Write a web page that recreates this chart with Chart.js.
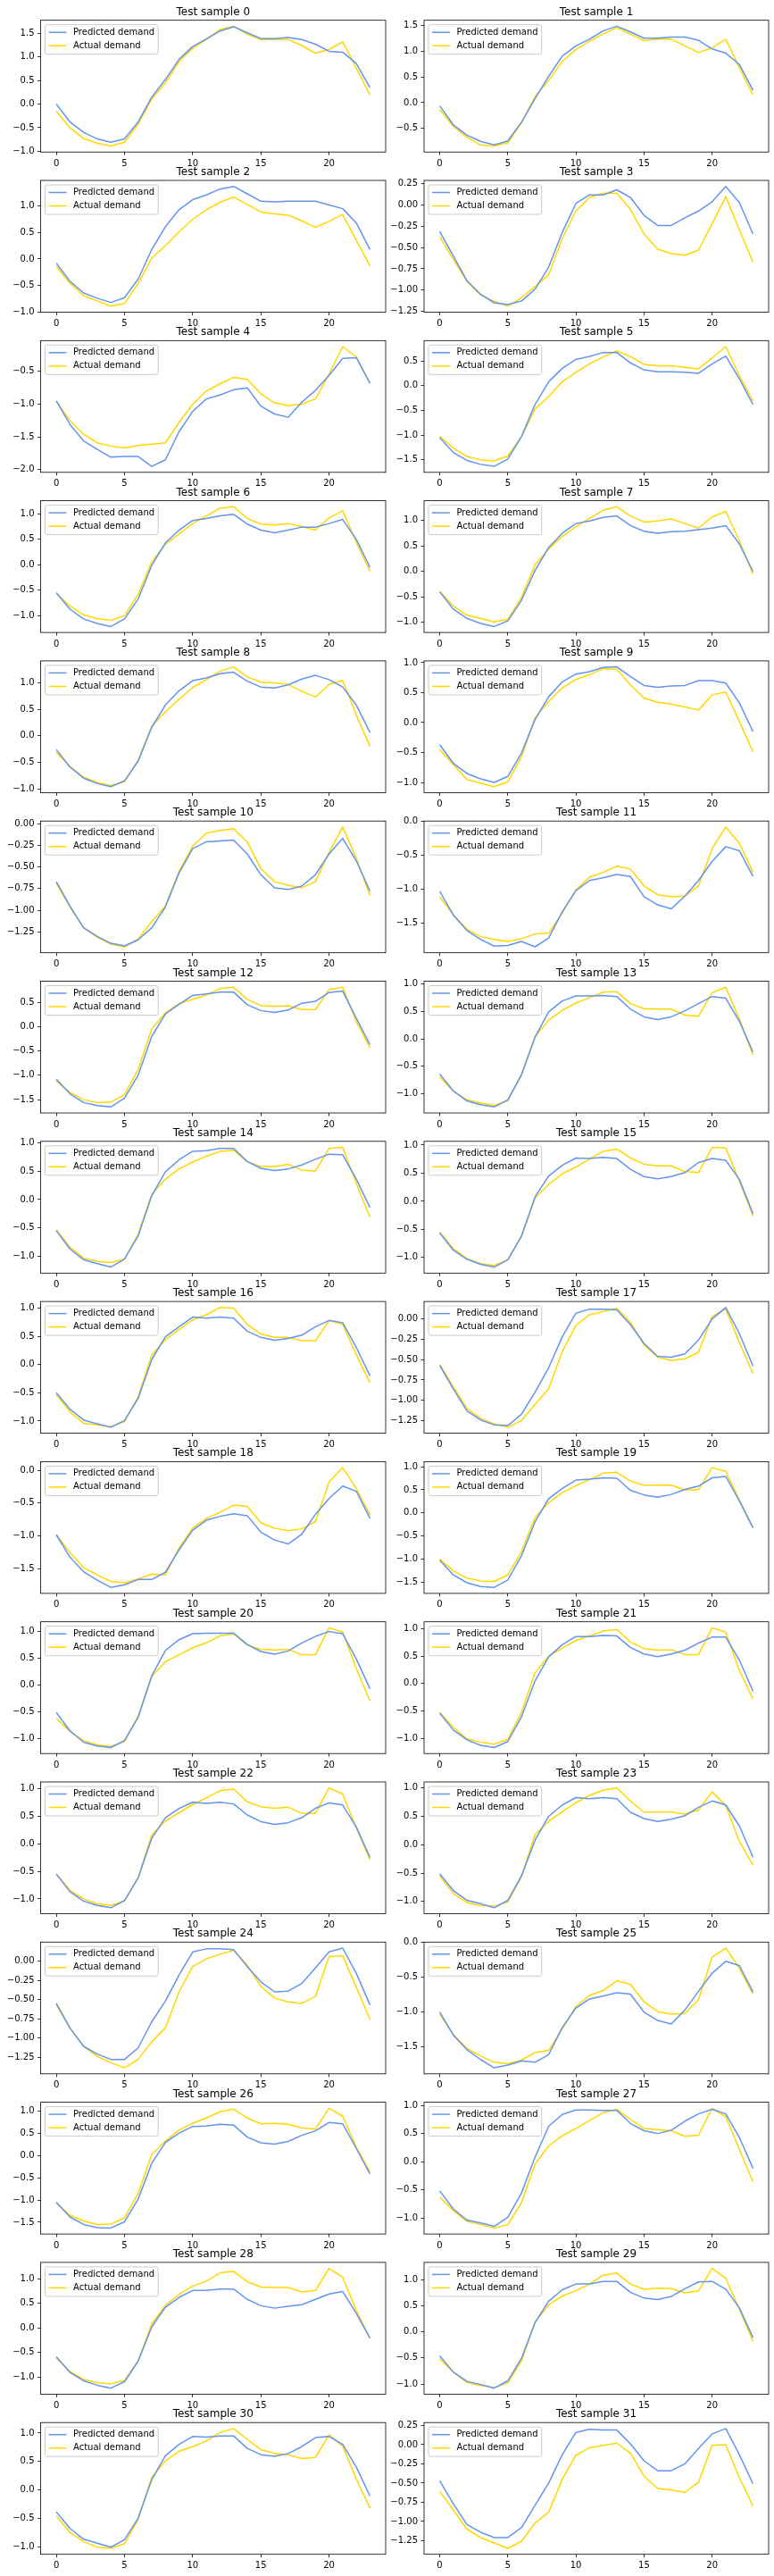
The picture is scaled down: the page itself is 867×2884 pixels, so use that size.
<!DOCTYPE html>
<html>
<head>
<meta charset="utf-8">
<script src="https://cdn.jsdelivr.net/npm/chart.js@4.4.0/dist/chart.umd.min.js"></script>
<style>
  body { margin: 0; background: #fff; }
  #wrap { position: relative; width: 867px; height: 2884px; overflow: hidden; }
  #wrap canvas { position: absolute; }
</style>
</head>
<body>
<div id="wrap"></div>
<script>
// ---- data ----
const hours = [0, 1, 2, 3, 4, 5, 6, 7, 8, 9, 10, 11, 12, 13, 14, 15, 16, 17, 18, 19, 20, 21, 22, 23];
const xTicks = [0, 5, 10, 15, 20];
const seriesNames = ['Predicted demand', 'Actual demand'];

// one row per test sample
const predicted = [
  [0.00, -0.38, -0.60, -0.74, -0.81, -0.74, -0.38, 0.15, 0.52, 0.95, 1.22, 1.38, 1.55, 1.64, 1.51, 1.39, 1.39, 1.41, 1.37, 1.27, 1.12, 1.10, 0.86, 0.35],
  [-0.06, -0.43, -0.63, -0.75, -0.82, -0.74, -0.38, 0.08, 0.51, 0.90, 1.10, 1.23, 1.39, 1.48, 1.37, 1.25, 1.25, 1.27, 1.27, 1.21, 1.04, 0.96, 0.74, 0.24],
  [-0.08, -0.42, -0.64, -0.74, -0.82, -0.73, -0.38, 0.18, 0.61, 0.93, 1.12, 1.21, 1.32, 1.37, 1.23, 1.09, 1.08, 1.09, 1.09, 1.09, 1.02, 0.95, 0.68, 0.18],
  [-0.31, -0.60, -0.89, -1.05, -1.15, -1.17, -1.13, -0.99, -0.73, -0.32, 0.02, 0.12, 0.12, 0.18, 0.09, -0.12, -0.24, -0.24, -0.15, -0.07, 0.04, 0.22, 0.03, -0.34],
  [-0.95, -1.31, -1.56, -1.69, -1.81, -1.80, -1.80, -1.95, -1.85, -1.42, -1.11, -0.92, -0.86, -0.78, -0.75, -1.03, -1.15, -1.20, -0.97, -0.79, -0.56, -0.30, -0.29, -0.68],
  [-1.05, -1.35, -1.51, -1.59, -1.63, -1.48, -1.03, -0.38, 0.08, 0.35, 0.53, 0.59, 0.67, 0.67, 0.46, 0.32, 0.28, 0.28, 0.27, 0.25, 0.44, 0.60, 0.14, -0.38],
  [-0.55, -0.87, -1.06, -1.15, -1.21, -1.06, -0.67, -0.01, 0.43, 0.68, 0.87, 0.91, 0.96, 0.99, 0.80, 0.68, 0.63, 0.68, 0.74, 0.74, 0.81, 0.89, 0.50, -0.05],
  [-0.40, -0.74, -0.92, -1.02, -1.08, -0.97, -0.57, 0.02, 0.47, 0.75, 0.94, 0.99, 1.06, 1.09, 0.90, 0.79, 0.75, 0.78, 0.79, 0.82, 0.85, 0.90, 0.54, 0.00],
  [-0.26, -0.59, -0.80, -0.90, -0.96, -0.85, -0.48, 0.16, 0.58, 0.85, 1.04, 1.09, 1.17, 1.20, 1.03, 0.92, 0.90, 0.96, 1.07, 1.14, 1.06, 0.92, 0.58, 0.06],
  [-0.37, -0.68, -0.85, -0.94, -1.00, -0.90, -0.51, 0.05, 0.43, 0.68, 0.81, 0.85, 0.92, 0.93, 0.77, 0.62, 0.59, 0.61, 0.62, 0.70, 0.70, 0.66, 0.33, -0.15],
  [-0.67, -0.95, -1.20, -1.30, -1.38, -1.41, -1.34, -1.20, -0.96, -0.57, -0.29, -0.21, -0.20, -0.19, -0.35, -0.59, -0.74, -0.76, -0.72, -0.59, -0.35, -0.17, -0.43, -0.78],
  [-1.03, -1.38, -1.61, -1.74, -1.84, -1.83, -1.77, -1.85, -1.72, -1.33, -1.02, -0.87, -0.83, -0.78, -0.81, -1.11, -1.23, -1.29, -1.10, -0.87, -0.59, -0.37, -0.43, -0.81],
  [-1.08, -1.38, -1.56, -1.62, -1.65, -1.47, -1.00, -0.20, 0.26, 0.46, 0.64, 0.67, 0.71, 0.71, 0.45, 0.33, 0.29, 0.34, 0.48, 0.52, 0.70, 0.73, 0.17, -0.37],
  [-0.64, -0.95, -1.13, -1.20, -1.24, -1.11, -0.66, 0.03, 0.49, 0.69, 0.78, 0.78, 0.79, 0.77, 0.54, 0.40, 0.35, 0.40, 0.51, 0.64, 0.77, 0.74, 0.32, -0.24],
  [-0.55, -0.87, -1.06, -1.13, -1.19, -1.05, -0.64, 0.07, 0.49, 0.70, 0.85, 0.86, 0.90, 0.90, 0.67, 0.55, 0.51, 0.54, 0.61, 0.71, 0.80, 0.79, 0.36, -0.14],
  [-0.56, -0.87, -1.03, -1.12, -1.17, -1.04, -0.62, 0.08, 0.45, 0.64, 0.77, 0.76, 0.78, 0.76, 0.57, 0.44, 0.40, 0.44, 0.51, 0.69, 0.76, 0.73, 0.39, -0.22],
  [-0.50, -0.79, -0.98, -1.05, -1.11, -0.99, -0.60, 0.09, 0.49, 0.67, 0.84, 0.82, 0.84, 0.82, 0.59, 0.48, 0.43, 0.46, 0.52, 0.67, 0.78, 0.74, 0.30, -0.20],
  [-0.57, -0.86, -1.13, -1.24, -1.30, -1.31, -1.17, -0.90, -0.60, -0.22, 0.07, 0.12, 0.12, 0.11, -0.07, -0.30, -0.46, -0.47, -0.43, -0.26, 0.00, 0.14, -0.18, -0.58],
  [-0.98, -1.32, -1.54, -1.67, -1.78, -1.74, -1.66, -1.66, -1.55, -1.21, -0.91, -0.76, -0.70, -0.66, -0.69, -0.94, -1.06, -1.12, -0.97, -0.67, -0.43, -0.24, -0.32, -0.73],
  [-1.02, -1.34, -1.51, -1.59, -1.61, -1.45, -0.93, -0.19, 0.31, 0.53, 0.71, 0.73, 0.76, 0.75, 0.49, 0.39, 0.34, 0.40, 0.51, 0.58, 0.76, 0.79, 0.26, -0.32],
  [-0.51, -0.85, -1.06, -1.13, -1.16, -1.03, -0.60, 0.17, 0.64, 0.84, 0.95, 0.96, 0.96, 0.96, 0.75, 0.62, 0.57, 0.63, 0.78, 0.90, 0.99, 0.95, 0.48, -0.07],
  [-0.54, -0.85, -1.03, -1.13, -1.17, -1.06, -0.61, 0.05, 0.49, 0.71, 0.86, 0.86, 0.88, 0.87, 0.66, 0.54, 0.49, 0.54, 0.61, 0.74, 0.85, 0.85, 0.43, -0.14],
  [-0.55, -0.87, -1.04, -1.12, -1.16, -1.03, -0.62, 0.10, 0.47, 0.64, 0.75, 0.73, 0.75, 0.72, 0.52, 0.40, 0.35, 0.38, 0.47, 0.64, 0.74, 0.70, 0.30, -0.25],
  [-0.51, -0.81, -0.98, -1.04, -1.11, -0.98, -0.55, 0.08, 0.50, 0.70, 0.83, 0.81, 0.83, 0.81, 0.57, 0.46, 0.41, 0.45, 0.51, 0.66, 0.77, 0.70, 0.33, -0.22],
  [-0.55, -0.87, -1.11, -1.21, -1.28, -1.28, -1.13, -0.79, -0.52, -0.18, 0.12, 0.16, 0.16, 0.15, -0.07, -0.27, -0.40, -0.39, -0.29, -0.09, 0.12, 0.17, -0.16, -0.57],
  [-1.00, -1.33, -1.54, -1.68, -1.80, -1.76, -1.70, -1.72, -1.61, -1.22, -0.94, -0.81, -0.77, -0.72, -0.74, -1.00, -1.12, -1.17, -0.97, -0.70, -0.44, -0.27, -0.33, -0.71],
  [-1.05, -1.38, -1.55, -1.62, -1.63, -1.49, -0.98, -0.17, 0.30, 0.51, 0.66, 0.67, 0.71, 0.69, 0.42, 0.29, 0.26, 0.32, 0.46, 0.56, 0.75, 0.72, 0.16, -0.41],
  [-0.52, -0.84, -1.04, -1.09, -1.15, -0.99, -0.56, 0.08, 0.63, 0.84, 0.92, 0.92, 0.91, 0.91, 0.68, 0.55, 0.50, 0.56, 0.72, 0.85, 0.93, 0.85, 0.43, -0.12],
  [-0.59, -0.91, -1.08, -1.17, -1.23, -1.10, -0.68, 0.02, 0.42, 0.62, 0.76, 0.76, 0.79, 0.79, 0.58, 0.45, 0.40, 0.44, 0.47, 0.58, 0.69, 0.74, 0.29, -0.21],
  [-0.46, -0.77, -0.95, -1.01, -1.08, -0.94, -0.51, 0.18, 0.59, 0.81, 0.92, 0.92, 0.97, 0.97, 0.76, 0.65, 0.62, 0.68, 0.83, 0.96, 0.97, 0.82, 0.46, -0.11],
  [-0.39, -0.68, -0.87, -0.94, -1.01, -0.88, -0.50, 0.18, 0.60, 0.80, 0.94, 0.93, 0.95, 0.95, 0.73, 0.62, 0.59, 0.64, 0.76, 0.92, 0.94, 0.80, 0.40, -0.11],
  [-0.47, -0.77, -1.04, -1.14, -1.21, -1.21, -1.08, -0.79, -0.50, -0.13, 0.16, 0.20, 0.19, 0.19, 0.01, -0.21, -0.34, -0.34, -0.25, -0.05, 0.14, 0.21, -0.13, -0.51]
];

const actual = [
  [-0.15, -0.50, -0.73, -0.83, -0.89, -0.81, -0.43, 0.11, 0.45, 0.90, 1.18, 1.37, 1.58, 1.65, 1.48, 1.37, 1.37, 1.37, 1.24, 1.08, 1.16, 1.32, 0.76, 0.19],
  [-0.13, -0.46, -0.67, -0.82, -0.84, -0.78, -0.39, 0.12, 0.43, 0.80, 1.03, 1.19, 1.33, 1.45, 1.33, 1.20, 1.23, 1.23, 1.10, 0.97, 1.06, 1.23, 0.68, 0.15],
  [-0.14, -0.46, -0.69, -0.79, -0.89, -0.84, -0.46, 0.02, 0.25, 0.51, 0.75, 0.93, 1.07, 1.17, 1.03, 0.89, 0.85, 0.83, 0.72, 0.60, 0.71, 0.84, 0.35, -0.13],
  [-0.37, -0.64, -0.90, -1.06, -1.13, -1.19, -1.09, -0.96, -0.82, -0.39, -0.07, 0.09, 0.14, 0.14, -0.05, -0.34, -0.52, -0.57, -0.59, -0.53, -0.22, 0.10, -0.29, -0.67],
  [-0.95, -1.25, -1.46, -1.59, -1.64, -1.67, -1.63, -1.61, -1.59, -1.28, -1.00, -0.80, -0.69, -0.59, -0.62, -0.84, -0.98, -1.02, -1.00, -0.92, -0.54, -0.12, -0.28, -0.68],
  [-1.02, -1.26, -1.43, -1.50, -1.52, -1.42, -1.03, -0.47, -0.22, 0.08, 0.27, 0.44, 0.58, 0.70, 0.59, 0.43, 0.40, 0.40, 0.37, 0.34, 0.56, 0.79, 0.20, -0.31],
  [-0.55, -0.81, -0.98, -1.06, -1.09, -1.00, -0.58, 0.06, 0.40, 0.61, 0.81, 0.96, 1.11, 1.14, 0.91, 0.80, 0.78, 0.81, 0.75, 0.68, 0.92, 1.06, 0.44, -0.13],
  [-0.39, -0.68, -0.86, -0.92, -0.99, -0.94, -0.51, 0.13, 0.44, 0.69, 0.88, 1.04, 1.20, 1.27, 1.09, 0.97, 0.99, 1.03, 0.94, 0.85, 1.07, 1.18, 0.60, -0.05],
  [-0.31, -0.58, -0.78, -0.88, -0.94, -0.87, -0.46, 0.18, 0.45, 0.69, 0.91, 1.06, 1.22, 1.30, 1.11, 1.01, 1.00, 0.97, 0.84, 0.73, 0.97, 1.04, 0.39, -0.20],
  [-0.45, -0.70, -0.95, -1.01, -1.07, -0.99, -0.57, 0.08, 0.35, 0.58, 0.72, 0.80, 0.90, 0.89, 0.63, 0.41, 0.34, 0.31, 0.26, 0.21, 0.46, 0.51, 0.02, -0.49],
  [-0.69, -0.96, -1.20, -1.31, -1.39, -1.42, -1.33, -1.13, -0.95, -0.55, -0.26, -0.11, -0.08, -0.06, -0.21, -0.52, -0.67, -0.71, -0.74, -0.67, -0.33, -0.04, -0.40, -0.83],
  [-1.11, -1.38, -1.59, -1.70, -1.74, -1.77, -1.73, -1.66, -1.65, -1.35, -1.01, -0.82, -0.75, -0.66, -0.70, -0.95, -1.08, -1.11, -1.10, -0.95, -0.40, -0.08, -0.32, -0.75],
  [-1.12, -1.35, -1.50, -1.56, -1.55, -1.40, -0.88, -0.05, 0.28, 0.47, 0.56, 0.65, 0.78, 0.81, 0.56, 0.43, 0.42, 0.43, 0.35, 0.35, 0.76, 0.81, 0.10, -0.43],
  [-0.69, -0.95, -1.11, -1.17, -1.21, -1.13, -0.64, 0.04, 0.34, 0.52, 0.65, 0.75, 0.85, 0.86, 0.64, 0.55, 0.54, 0.54, 0.43, 0.41, 0.84, 0.94, 0.36, -0.29],
  [-0.53, -0.84, -1.03, -1.09, -1.11, -1.05, -0.61, 0.09, 0.36, 0.54, 0.66, 0.76, 0.85, 0.87, 0.67, 0.58, 0.58, 0.62, 0.52, 0.50, 0.90, 0.92, 0.28, -0.31],
  [-0.55, -0.84, -1.02, -1.11, -1.14, -1.04, -0.63, 0.06, 0.30, 0.49, 0.61, 0.75, 0.89, 0.93, 0.77, 0.66, 0.63, 0.63, 0.53, 0.51, 0.96, 0.95, 0.36, -0.26],
  [-0.53, -0.84, -1.04, -1.07, -1.10, -1.01, -0.57, 0.17, 0.44, 0.62, 0.79, 0.88, 1.01, 1.00, 0.71, 0.54, 0.48, 0.48, 0.42, 0.42, 0.78, 0.71, 0.17, -0.32],
  [-0.56, -0.83, -1.10, -1.22, -1.29, -1.33, -1.25, -1.05, -0.86, -0.40, -0.08, 0.05, 0.09, 0.13, -0.04, -0.32, -0.47, -0.51, -0.49, -0.41, 0.03, 0.12, -0.29, -0.67],
  [-0.98, -1.25, -1.48, -1.59, -1.69, -1.71, -1.65, -1.58, -1.59, -1.18, -0.88, -0.73, -0.64, -0.53, -0.55, -0.80, -0.88, -0.92, -0.89, -0.78, -0.18, 0.04, -0.28, -0.68],
  [-1.00, -1.25, -1.41, -1.47, -1.48, -1.34, -0.84, -0.10, 0.22, 0.44, 0.59, 0.72, 0.86, 0.88, 0.69, 0.60, 0.60, 0.60, 0.50, 0.50, 0.98, 0.90, 0.28, -0.33],
  [-0.62, -0.86, -1.03, -1.11, -1.14, -1.05, -0.58, 0.16, 0.43, 0.56, 0.69, 0.78, 0.91, 0.95, 0.74, 0.66, 0.65, 0.66, 0.56, 0.56, 1.06, 0.98, 0.30, -0.30],
  [-0.53, -0.80, -1.01, -1.07, -1.11, -1.02, -0.53, 0.20, 0.50, 0.65, 0.79, 0.87, 0.96, 0.99, 0.76, 0.64, 0.61, 0.62, 0.53, 0.53, 1.02, 0.94, 0.24, -0.28],
  [-0.55, -0.84, -1.00, -1.09, -1.12, -1.04, -0.62, 0.16, 0.41, 0.56, 0.71, 0.83, 0.96, 0.99, 0.76, 0.67, 0.64, 0.66, 0.55, 0.55, 1.01, 0.90, 0.28, -0.29],
  [-0.55, -0.86, -1.02, -1.07, -1.08, -1.01, -0.57, 0.18, 0.41, 0.58, 0.74, 0.87, 0.96, 1.00, 0.77, 0.57, 0.58, 0.58, 0.54, 0.61, 0.93, 0.69, 0.06, -0.36],
  [-0.57, -0.87, -1.11, -1.24, -1.32, -1.39, -1.28, -1.05, -0.87, -0.40, -0.07, 0.03, 0.09, 0.14, -0.05, -0.33, -0.48, -0.53, -0.55, -0.46, 0.06, 0.07, -0.34, -0.76],
  [-1.03, -1.32, -1.52, -1.63, -1.72, -1.74, -1.69, -1.58, -1.55, -1.24, -0.92, -0.76, -0.69, -0.55, -0.60, -0.85, -0.99, -1.03, -1.02, -0.82, -0.21, -0.08, -0.37, -0.74],
  [-1.07, -1.34, -1.47, -1.55, -1.54, -1.40, -0.85, 0.03, 0.33, 0.58, 0.73, 0.85, 0.99, 1.05, 0.85, 0.72, 0.73, 0.71, 0.63, 0.60, 1.07, 0.89, 0.19, -0.36],
  [-0.63, -0.87, -1.06, -1.12, -1.18, -1.12, -0.73, -0.04, 0.28, 0.46, 0.59, 0.73, 0.87, 0.93, 0.75, 0.59, 0.57, 0.55, 0.45, 0.47, 0.95, 0.80, 0.22, -0.36],
  [-0.62, -0.89, -1.05, -1.12, -1.14, -1.07, -0.68, 0.08, 0.46, 0.68, 0.85, 0.95, 1.12, 1.15, 0.94, 0.83, 0.82, 0.82, 0.73, 0.76, 1.21, 1.03, 0.35, -0.22],
  [-0.52, -0.77, -0.97, -1.03, -1.07, -0.98, -0.56, 0.19, 0.52, 0.69, 0.79, 0.92, 1.09, 1.13, 0.92, 0.82, 0.84, 0.83, 0.75, 0.79, 1.22, 1.03, 0.44, -0.18],
  [-0.46, -0.75, -0.91, -1.01, -1.03, -0.95, -0.52, 0.22, 0.51, 0.68, 0.76, 0.86, 1.01, 1.08, 0.89, 0.71, 0.64, 0.62, 0.55, 0.57, 0.97, 0.77, 0.19, -0.32],
  [-0.61, -0.85, -1.10, -1.21, -1.28, -1.35, -1.26, -1.02, -0.88, -0.45, -0.14, -0.04, -0.01, 0.02, -0.11, -0.41, -0.57, -0.59, -0.62, -0.49, -0.01, 0.00, -0.43, -0.80]
];

// ---- layout (pixels) ----
const FONT = '"DejaVu Sans", sans-serif';
const BLUE = '#6495ED';
const GOLD = '#FFD700';
const ROW_TOP0 = 22.7, ROW_PITCH = 179.3, AX_H = 147.5, CANVAS_H = 200;
const COLS = [
  { canvasLeft: 0,   width: 436, axLeft: 45.5, axRight: 432 },
  { canvasLeft: 428, width: 439, axLeft: 475,  axRight: 861 }
];

function niceStep(span) {
  const raw = span / 7;
  const mag = Math.pow(10, Math.floor(Math.log10(raw)));
  for (const m of [1, 2, 2.5, 5, 10]) {
    if (m * mag >= raw - 1e-12) return m * mag;
  }
  return 10 * mag;
}

function fmt(v, dec) {
  const s = (Math.abs(v) < 1e-9 ? 0 : v).toFixed(dec);
  return s.replace('-', '\u2212');
}

const decor = {
  id: 'decor',
  afterDraw(chart, args, opts) {
    const ctx = chart.ctx, a = chart.chartArea;
    ctx.save();
    // axes frame
    ctx.strokeStyle = '#000';
    ctx.lineWidth = 0.8;
    ctx.strokeRect(a.left, a.top, a.right - a.left, a.bottom - a.top);
    // legend, upper left
    ctx.font = '10px ' + FONT;
    let tw = 0;
    chart.data.datasets.forEach(ds => { tw = Math.max(tw, ctx.measureText(ds.label).width); });
    const lx = a.left + 5, ly = a.top + 5;
    ctx.beginPath();
    ctx.roundRect(lx, ly, 31.5 + tw + 4, 33, 2);
    ctx.fillStyle = 'rgba(255,255,255,0.8)';
    ctx.fill();
    ctx.strokeStyle = '#cccccc';
    ctx.lineWidth = 1;
    ctx.stroke();
    ctx.textBaseline = 'middle';
    ctx.textAlign = 'left';
    chart.data.datasets.forEach((ds, i) => {
      const y = a.top + 13.5 + 15 * i;
      ctx.strokeStyle = ds.borderColor;
      ctx.lineWidth = 1.5;
      ctx.beginPath();
      ctx.moveTo(a.left + 9, y);
      ctx.lineTo(a.left + 29, y);
      ctx.stroke();
      ctx.fillStyle = '#000';
      ctx.fillText(ds.label, a.left + 36.5, y);
    });
    // title
    ctx.font = '12px ' + FONT;
    ctx.textAlign = 'center';
    ctx.textBaseline = 'alphabetic';
    ctx.fillStyle = '#000';
    ctx.fillText(opts.text, (a.left + a.right) / 2, a.top - 6);
    ctx.restore();
  }
};

const wrap = document.getElementById('wrap');

predicted.forEach((pred, k) => {
  const act = actual[k];
  const col = COLS[k % 2];
  const row = Math.floor(k / 2);
  const axTopAbs = ROW_TOP0 + ROW_PITCH * row;
  const canvasTop = Math.floor(axTopAbs) - 22;
  const axTop = axTopAbs - canvasTop;

  const canvas = document.createElement('canvas');
  canvas.width = col.width;
  canvas.height = CANVAS_H;
  canvas.style.left = col.canvasLeft + 'px';
  canvas.style.top = canvasTop + 'px';
  canvas.style.width = col.width + 'px';
  canvas.style.height = CANVAS_H + 'px';
  wrap.appendChild(canvas);

  // matplotlib style autoscale: 5% margins
  const all = pred.concat(act);
  const lo = Math.min(...all), hi = Math.max(...all);
  const yMin = lo - 0.05 * (hi - lo), yMax = hi + 0.05 * (hi - lo);
  const step = niceStep(yMax - yMin);
  const dec = step < 0.5 && step !== 0.2 ? 2 : 1;
  const yTicks = [];
  for (let v = Math.ceil(yMin / step) * step; v <= yMax + 1e-9; v += step) {
    yTicks.push({ value: Math.round(v * 1000) / 1000 });
  }

  const xMin = hours[0] - 0.05 * (hours[hours.length - 1] - hours[0]);
  const xMax = hours[hours.length - 1] + 0.05 * (hours[hours.length - 1] - hours[0]);

  const tickFont = { family: FONT, size: 10 };
  const grid = { display: true, drawOnChartArea: false, drawTicks: true, tickLength: 3.5, color: '#000', tickWidth: 0.8 };

  new Chart(canvas.getContext('2d'), {
    type: 'line',
    data: {
      datasets: [
        { label: seriesNames[0], data: hours.map((h, i) => ({ x: h, y: pred[i] })), borderColor: BLUE, borderWidth: 1.5, pointRadius: 0, fill: false, tension: 0, borderJoinStyle: 'round' },
        { label: seriesNames[1], data: hours.map((h, i) => ({ x: h, y: act[i] })), borderColor: GOLD, borderWidth: 1.5, pointRadius: 0, fill: false, tension: 0, borderJoinStyle: 'round' }
      ]
    },
    options: {
      responsive: false,
      animation: false,
      devicePixelRatio: 1,
      layout: { padding: { top: axTop, left: 0, right: col.width - (col.axRight - col.canvasLeft), bottom: 0 } },
      plugins: {
        legend: { display: false },
        tooltip: { enabled: false },
        decor: { text: 'Test sample ' + k }
      },
      scales: {
        x: {
          type: 'linear',
          min: xMin,
          max: xMax,
          afterBuildTicks: s => { s.ticks = xTicks.map(v => ({ value: v })); },
          afterFit: s => { s.height = CANVAS_H - axTop - AX_H; },
          grid: grid,
          border: { display: false },
          ticks: { padding: 3.5, color: '#000', font: tickFont, maxRotation: 0, autoSkip: false, callback: v => String(v) }
        },
        y: {
          type: 'linear',
          min: yMin,
          max: yMax,
          afterBuildTicks: s => { s.ticks = yTicks.slice(); },
          afterFit: s => { s.width = col.axLeft - col.canvasLeft; },
          grid: grid,
          border: { display: false },
          ticks: { padding: 3.5, color: '#000', font: tickFont, autoSkip: false, callback: v => fmt(v, dec) }
        }
      }
    },
    plugins: [decor]
  });
});
</script>
</body>
</html>
